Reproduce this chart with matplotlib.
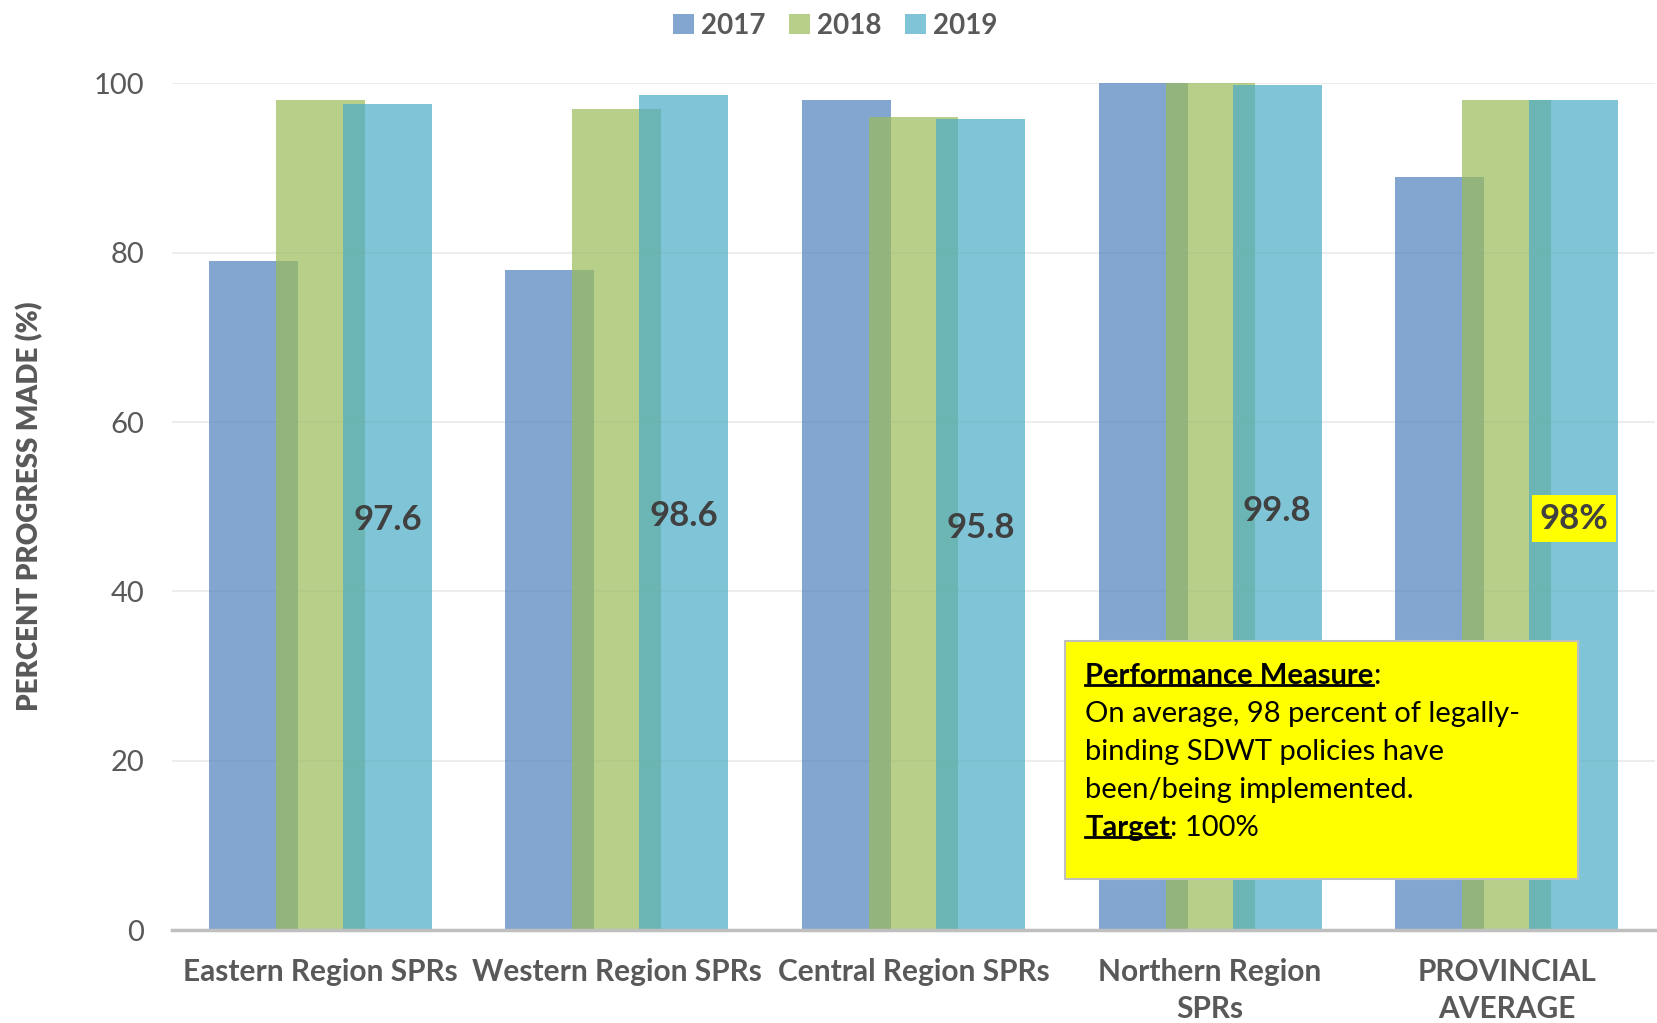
"""Progress on legally-binding SDWT policies by region, 2017-2019."""

import matplotlib
matplotlib.use("Agg")
import matplotlib.pyplot as plt
from matplotlib.lines import Line2D
from matplotlib.patches import Rectangle, Patch
import numpy as np

CATEGORIES = [
    "Eastern Region SPRs",
    "Western Region SPRs",
    "Central Region SPRs",
    "Northern Region\nSPRs",
    "PROVINCIAL\nAVERAGE",
]
YEARS = ["2017", "2018", "2019"]
VALUES_2017 = [79.0, 78.0, 98.0, 100.0, 89.0]
VALUES_2018 = [98.0, 97.0, 96.0, 100.0, 98.0]
VALUES_2019 = [97.6, 98.6, 95.8, 99.8, 98.0]
LABELS_2019 = ["97.6", "98.6", "95.8", "99.8", "98%"]

COLORS = ["#4F81BD", "#9BBB59", "#4BACC6"]
GRAY = "#595959"
FONT = ["Lato", "DejaVu Sans"]

BOX_LINES = [
    ("Performance Measure", ":"),
    ("On average, 98 percent of legally-", None),
    ("binding SDWT policies have", None),
    ("been/being implemented.", None),
    ("Target", ": 100%"),
]

plt.rcParams.update({"font.family": FONT})

fig = plt.figure(figsize=(16.57, 10.23), dpi=100)
ax = fig.add_axes([0.1038, 0.0909, 0.8950, 0.8275])

x = np.arange(len(CATEGORIES))
width = 0.30
offset = 0.226
series = [VALUES_2017, VALUES_2018, VALUES_2019]
for i, (vals, col) in enumerate(zip(series, COLORS)):
    ax.bar(x + (i - 1) * offset, vals, width=width, color=col, alpha=0.7,
           linewidth=0, zorder=2 + i, clip_on=False)

# data labels on the 2019 bars, centred in the bar
for xi, v, lab in zip(x, VALUES_2019, LABELS_2019):
    kw = {}
    if lab.endswith("%"):
        kw["bbox"] = dict(boxstyle="square,pad=0.22", facecolor="#FFFF00",
                          edgecolor="none")
    ax.text(xi + offset, v / 2 - 0.4, lab, ha="center", va="center",
            fontsize=25, fontweight="bold", color="#404040", zorder=10, **kw)

ax.set_xlim(-0.5, len(CATEGORIES) - 0.5)
ax.set_ylim(0, 100)
ax.set_yticks([0, 20, 40, 60, 80, 100])
ax.set_xticks(x)
ax.set_xticklabels(CATEGORIES, fontsize=21.5, fontweight="bold", color=GRAY,
                   linespacing=1.4)
ax.tick_params(axis="x", length=0, pad=20)
ax.tick_params(axis="y", length=0, pad=20, labelsize=21, labelcolor=GRAY)

ax.set_axisbelow(True)
ax.grid(axis="y", color="#ECECEC", linewidth=1.3)
for s in ["top", "right", "left"]:
    ax.spines[s].set_visible(False)
ax.spines["bottom"].set_color("#BFBFBF")
ax.spines["bottom"].set_linewidth(2.5)
ax.spines["bottom"].set_zorder(8)

ax.set_ylabel("PERCENT PROGRESS MADE (%)", fontsize=20, fontweight="heavy",
              color=GRAY)
ax.yaxis.set_label_coords(-0.087, 0.5)

handles = [Patch(facecolor=c, alpha=0.7, edgecolor="none") for c in COLORS]
fig.legend(handles, YEARS, loc="center", bbox_to_anchor=(0.504, 0.975),
           ncol=3, frameon=False, handlelength=0.75, handleheight=0.75,
           handletextpad=0.25, columnspacing=0.85,
           prop={"family": FONT, "weight": "bold", "size": 20},
           labelcolor=GRAY)

# yellow performance-measure box
ax.add_patch(Rectangle((2.511, 6.0), 1.73, 28.1, facecolor="#FFFF00",
                       edgecolor="#BFBFBF", linewidth=1.5, zorder=12,
                       clip_on=False))
box_x = 2.579
baselines = [29.1, 24.6, 20.1, 15.6, 11.1]
fs_box = 21
underlined = []
for (main, tail), yb in zip(BOX_LINES, baselines):
    is_head = tail is not None
    t = ax.text(box_x, yb, main, ha="left", va="baseline", fontsize=fs_box,
                fontweight="bold" if is_head else "normal", color="black",
                zorder=13)
    if is_head:
        underlined.append(t)
        ax.annotate(tail, xy=(1, 0), xycoords=t, ha="left", va="bottom",
                    fontsize=fs_box, color="black", zorder=13)

fig.canvas.draw()
renderer = fig.canvas.get_renderer()
inv = fig.transFigure.inverted()
em = fs_box * fig.dpi / 72
for t in underlined:
    bb = t.get_window_extent(renderer)
    y = bb.y0 + 0.13 * em
    (x0, y0), (x1, _) = inv.transform([(bb.x0, y), (bb.x1, y)])
    fig.add_artist(Line2D([x0, x1], [y0, y0], color="black", linewidth=2.0,
                          zorder=14))

fig.savefig("out.png", dpi=100)
